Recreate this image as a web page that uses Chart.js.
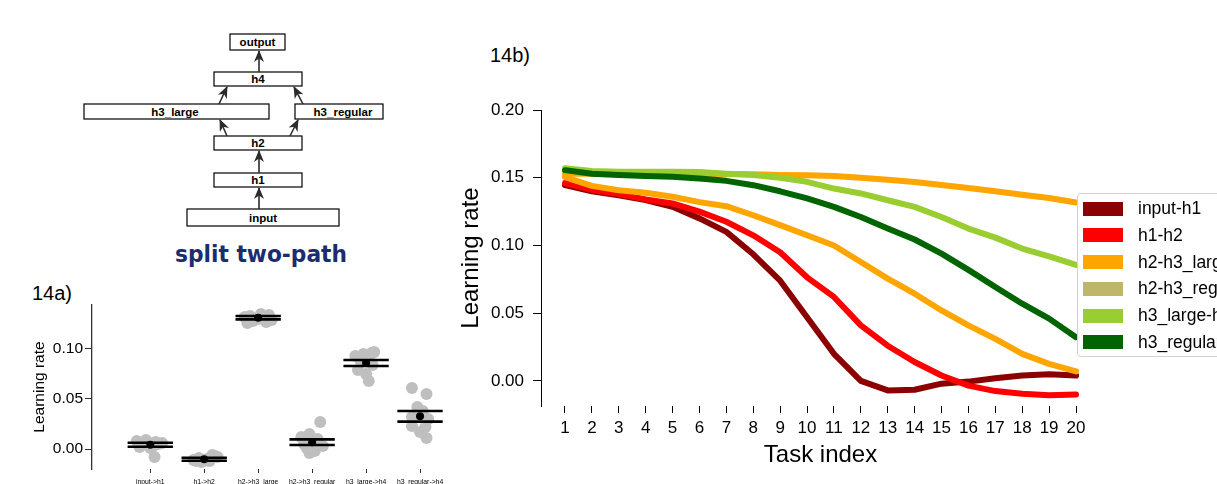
<!DOCTYPE html>
<html>
<head>
<meta charset="utf-8">
<script src="https://cdn.jsdelivr.net/npm/chart.js@4.4.1/dist/chart.umd.min.js"></script>
<style>
  body { margin: 0; width: 1217px; height: 484px; overflow: hidden; background: #fff; position: relative;
         font-family: "Liberation Sans", Arial, sans-serif; }
  canvas { position: absolute; }
  .panel { position: absolute; font-size: 20px; line-height: 20px; color: #000; }
  #legend { position: absolute; left: 1077px; top: 193px; width: 170px; height: 164px; box-sizing: border-box;
            border: 1px solid #d2d2d2; border-radius: 4px; background: rgba(255,255,255,0.9); padding-top: 1px; }
  .row { height: 26.8px; position: relative; }
  .sw { position: absolute; left: 5px; top: 6.5px; width: 40px; height: 14px; }
  .lb { position: absolute; left: 60px; top: 3px; font-size: 17.5px; line-height: 20px; white-space: nowrap; }
  #diagram { position: absolute; left: 0; top: 0; }
</style>
</head>
<body>

<svg id="diagram" width="460" height="280">
  <defs>
    <marker id="head" viewBox="0 0 12 10" refX="11" refY="5" markerWidth="12" markerHeight="10" markerUnits="userSpaceOnUse" orient="auto">
      <path d="M0,0 L12,5 L0,10 L3.5,5 Z" fill="#2b2b2b"/>
    </marker>
  </defs>
  <g fill="#fff" stroke="#000" stroke-width="1.2">
    <rect x="230" y="34" width="55" height="16"/>
    <rect x="214" y="72" width="88" height="14"/>
    <rect x="84" y="104" width="185" height="15"/>
    <rect x="295" y="104" width="88" height="15"/>
    <rect x="214" y="136" width="88" height="14"/>
    <rect x="214" y="173" width="88" height="14"/>
    <rect x="187" y="209" width="152" height="17"/>
  </g>
  <g stroke="#2b2b2b" stroke-width="1.6" marker-end="url(#head)">
    <line x1="259" y1="209" x2="259" y2="188"/>
    <line x1="259" y1="173" x2="259" y2="151"/>
    <line x1="227" y1="136" x2="220" y2="120"/>
    <line x1="290" y1="136" x2="298" y2="120"/>
    <line x1="219" y1="104" x2="227" y2="87"/>
    <line x1="303" y1="104" x2="294" y2="87"/>
    <line x1="259" y1="72" x2="259" y2="51"/>
  </g>
  <g font-family="Liberation Sans, Arial, sans-serif" font-weight="bold" font-size="11.5" text-anchor="middle" fill="#000">
    <text x="257.5" y="46">output</text>
    <text x="258" y="83">h4</text>
    <text x="175" y="116">h3_large</text>
    <text x="343" y="116">h3_regular</text>
    <text x="258" y="147">h2</text>
    <text x="258" y="184">h1</text>
    <text x="263" y="222">input</text>
  </g>
  <text x="175" y="262" font-family="DejaVu Sans, sans-serif" font-weight="bold" font-size="23" fill="#1c2d6b"
        textLength="172" lengthAdjust="spacingAndGlyphs">split two-path</text>
</svg>

<div class="panel" style="left:32px; top:283px;">14a)</div>
<div class="panel" style="left:490px; top:45px;">14b)</div>

<canvas id="chartA" width="460" height="204" style="left:0; top:280px;"></canvas>
<canvas id="chartB" width="777" height="404" style="left:440px; top:80px;"></canvas>
<div id="legend"></div>

<script>
// ---- 14b: learning rate per task ----
const tasks = [1, 2, 3, 4, 5, 6, 7, 8, 9, 10, 11, 12, 13, 14, 15, 16, 17, 18, 19, 20];
const seriesNames = ['input-h1', 'h1-h2', 'h2-h3_large', 'h2-h3_regular', 'h3_large-h4', 'h3_regular-h4'];
const lineColors = ['#8b0000', '#ff0000', '#ffa500', '#ffa500', '#9acd32', '#006400'];
const legendColors = ['#8b0000', '#ff0000', '#ffa500', '#bdb76b', '#9acd32', '#006400'];

const inputH1 = [0.1445, 0.140, 0.137, 0.1335, 0.1285, 0.120, 0.110, 0.0935, 0.074, 0.047,
                 0.020, 0.000, -0.007, -0.0065, -0.002, -0.0005, 0.002, 0.004, 0.005, 0.004];
const h1H2 = [0.146, 0.141, 0.138, 0.134, 0.131, 0.125, 0.1175, 0.1075, 0.095, 0.0765,
              0.062, 0.041, 0.026, 0.014, 0.004, -0.0035, -0.0075, -0.0095, -0.0105, -0.010];
const h2H3Large = [0.153, 0.153, 0.153, 0.153, 0.153, 0.153, 0.1528, 0.1525, 0.152, 0.1518,
                   0.1512, 0.150, 0.1485, 0.1468, 0.1447, 0.1425, 0.140, 0.1375, 0.135, 0.1317];
const h2H3Regular = [0.1505, 0.144, 0.1408, 0.1389, 0.136, 0.132, 0.129, 0.1223, 0.115, 0.1075,
                     0.100, 0.0878, 0.0755, 0.0644, 0.052, 0.041, 0.031, 0.020, 0.0126, 0.007];
const h3LargeH4 = [0.157, 0.155, 0.1545, 0.1545, 0.1545, 0.1542, 0.153, 0.152, 0.150, 0.147,
                   0.142, 0.1384, 0.1334, 0.1285, 0.121, 0.1125, 0.1058, 0.0977, 0.092, 0.0856];
const h3RegularH4 = [0.1556, 0.153, 0.152, 0.1512, 0.1507, 0.1495, 0.1477, 0.1445, 0.140, 0.1347,
                     0.1285, 0.121, 0.1125, 0.1044, 0.094, 0.082, 0.0693, 0.057, 0.046, 0.0323];
const yTicksB = [0, 0.05, 0.10, 0.15, 0.20];

// ---- 14a: final learning rate per connection ----
const connections = ['input->h1', 'h1->h2', 'h2->h3_large', 'h2->h3_regular', 'h3_large->h4', 'h3_regular->h4'];
const means = [0.0043, -0.0102, 0.1313, 0.0068, 0.086, 0.0327];
const stdErr = [0.002, 0.0015, 0.0017, 0.0028, 0.003, 0.0053];
const runValues = [
  [0.008, 0.009, 0.007, 0.006, 0.004, 0.003, 0.002, 0.005, 0.001, -0.008],
  [-0.006, -0.007, -0.009, -0.010, -0.011, -0.012, -0.013, -0.008, -0.011, -0.012],
  [0.135, 0.134, 0.133, 0.132, 0.131, 0.130, 0.129, 0.128, 0.127, 0.126],
  [0.027, 0.015, 0.012, 0.010, 0.008, 0.005, 0.003, 0.001, -0.002, -0.004],
  [0.097, 0.096, 0.095, 0.093, 0.091, 0.088, 0.084, 0.079, 0.075, 0.068],
  [0.061, 0.055, 0.042, 0.038, 0.032, 0.030, 0.023, 0.022, 0.017, 0.011]
];
const runJitter = [
  [-0.25, -0.08, 0.1, 0.22, -0.15, 0.05, -0.2, 0.15, 0.0, 0.08],
  [0.15, 0.2, -0.1, 0.05, -0.2, 0.1, -0.05, 0.25, 0.0, -0.15],
  [0.05, 0.2, -0.15, -0.25, 0.1, 0.0, 0.25, -0.1, 0.15, -0.2],
  [0.15, -0.05, -0.2, 0.1, 0.0, -0.15, 0.2, -0.1, 0.05, -0.05],
  [0.15, 0.1, -0.05, -0.2, 0.05, -0.1, 0.12, -0.15, 0.0, 0.05],
  [-0.15, 0.12, -0.05, 0.05, -0.15, 0.15, -0.15, 0.1, 0.0, 0.12]
];
const yTicksA = [0, 0.05, 0.10];

const FONT = '"Liberation Sans", Arial, sans-serif';

// legend (html, clipped at the right edge like the figure)
const legendDiv = document.getElementById('legend');
seriesNames.forEach((name, i) => {
  const row = document.createElement('div');
  row.className = 'row';
  row.innerHTML = '<span class="sw" style="background:' + legendColors[i] + '"></span><span class="lb">' + name + '</span>';
  legendDiv.appendChild(row);
});

const seriesB = [inputH1, h1H2, h2H3Large, h2H3Regular, h3LargeH4, h3RegularH4];

new Chart(document.getElementById('chartB'), {
  type: 'line',
  data: {
    datasets: seriesB.map((vals, i) => ({
      label: seriesNames[i],
      data: tasks.map((t, j) => ({ x: t, y: vals[j] })),
      borderColor: lineColors[i],
      borderWidth: 6,
      borderCapStyle: 'round',
      borderJoinStyle: 'round',
      pointRadius: 0,
      tension: 0,
      fill: false,
      order: seriesB.length - i
    }))
  },
  options: {
    responsive: false,
    animation: false,
    layout: { padding: { left: 0, top: 30, right: 117, bottom: 0 } },
    plugins: { legend: { display: false }, tooltip: { enabled: false } },
    scales: {
      x: {
        type: 'linear',
        min: 0.108,
        max: 20.892,
        afterBuildTicks: s => { s.ticks = tasks.map(v => ({ value: v })); },
        afterFit: s => { s.height = 78; },
        ticks: { font: { family: FONT, size: 17 }, color: '#000', padding: 5, autoSkip: false, maxRotation: 0 },
        grid: { display: true, drawOnChartArea: false, drawTicks: true, tickLength: 7, color: '#000' },
        border: { display: false },
        title: { display: true, text: 'Task index', color: '#000',
                 font: { family: FONT, size: 24, lineHeight: 1 }, padding: { top: 0, bottom: 17 } }
      },
      y: {
        min: -0.0185,
        max: 0.20,
        afterBuildTicks: s => { s.ticks = yTicksB.map(v => ({ value: v })); },
        afterFit: s => { s.width = 101; },
        ticks: { font: { family: FONT, size: 17 }, color: '#000', padding: 9, callback: v => v.toFixed(2) },
        grid: { display: true, drawOnChartArea: false, drawTicks: true, tickLength: 8, color: '#000' },
        border: { display: true, color: '#000', width: 1 },
        title: { display: true, text: 'Learning rate', color: '#000',
                 font: { family: FONT, size: 24, lineHeight: 1 }, padding: { top: 19, bottom: 0 } }
      }
    }
  }
});

// 14a data for the library
const runPoints = [];
runValues.forEach((vals, i) => {
  vals.forEach((v, j) => runPoints.push({ x: i + runJitter[i][j], y: v }));
});
const halfBar = 0.42;
const barPoints = [];
means.forEach((m, i) => {
  [m + stdErr[i], m - stdErr[i]].forEach(v => {
    barPoints.push({ x: i - halfBar, y: v }, { x: i + halfBar, y: v }, { x: i, y: null });
  });
});

new Chart(document.getElementById('chartA'), {
  type: 'scatter',
  data: {
    datasets: [
      { data: runPoints, pointRadius: 6, pointBackgroundColor: '#bfbfbf', pointBorderWidth: 0, order: 3 },
      { data: barPoints, showLine: true, spanGaps: false, pointRadius: 0, borderColor: '#000', borderWidth: 2.6, order: 2 },
      { data: means.map((m, i) => ({ x: i, y: m })), pointRadius: 4, pointBackgroundColor: '#000', pointBorderWidth: 0, order: 1 }
    ]
  },
  options: {
    responsive: false,
    animation: false,
    layout: { padding: { left: 0, top: 25, right: 7.6, bottom: 0 } },
    plugins: { legend: { display: false }, tooltip: { enabled: false } },
    scales: {
      x: {
        type: 'linear',
        min: -1.08,
        max: 5.6,
        afterBuildTicks: s => { s.ticks = connections.map((c, i) => ({ value: i })); },
        afterFit: s => { s.height = 15; },
        ticks: { font: { family: FONT, size: 6.8 }, color: '#000', padding: 5, autoSkip: false, maxRotation: 0,
                 callback: v => connections[v] },
        grid: { display: true, drawOnChartArea: false, drawTicks: true, tickLength: 4, color: '#333' },
        border: { display: false }
      },
      y: {
        min: -0.020,
        max: 0.144,
        afterBuildTicks: s => { s.ticks = yTicksA.map(v => ({ value: v })); },
        afterFit: s => { s.width = 92; },
        ticks: { font: { family: FONT, size: 15.5 }, color: '#000', padding: 2, callback: v => v.toFixed(2) },
        grid: { display: true, drawOnChartArea: false, drawTicks: true, tickLength: 7, color: '#333' },
        border: { display: true, color: '#333', width: 1.3 },
        title: { display: true, text: 'Learning rate', color: '#000',
                 font: { family: FONT, size: 15.5, lineHeight: 1 }, padding: { top: 32, bottom: 0 } }
      }
    }
  }
});
</script>
</body>
</html>
